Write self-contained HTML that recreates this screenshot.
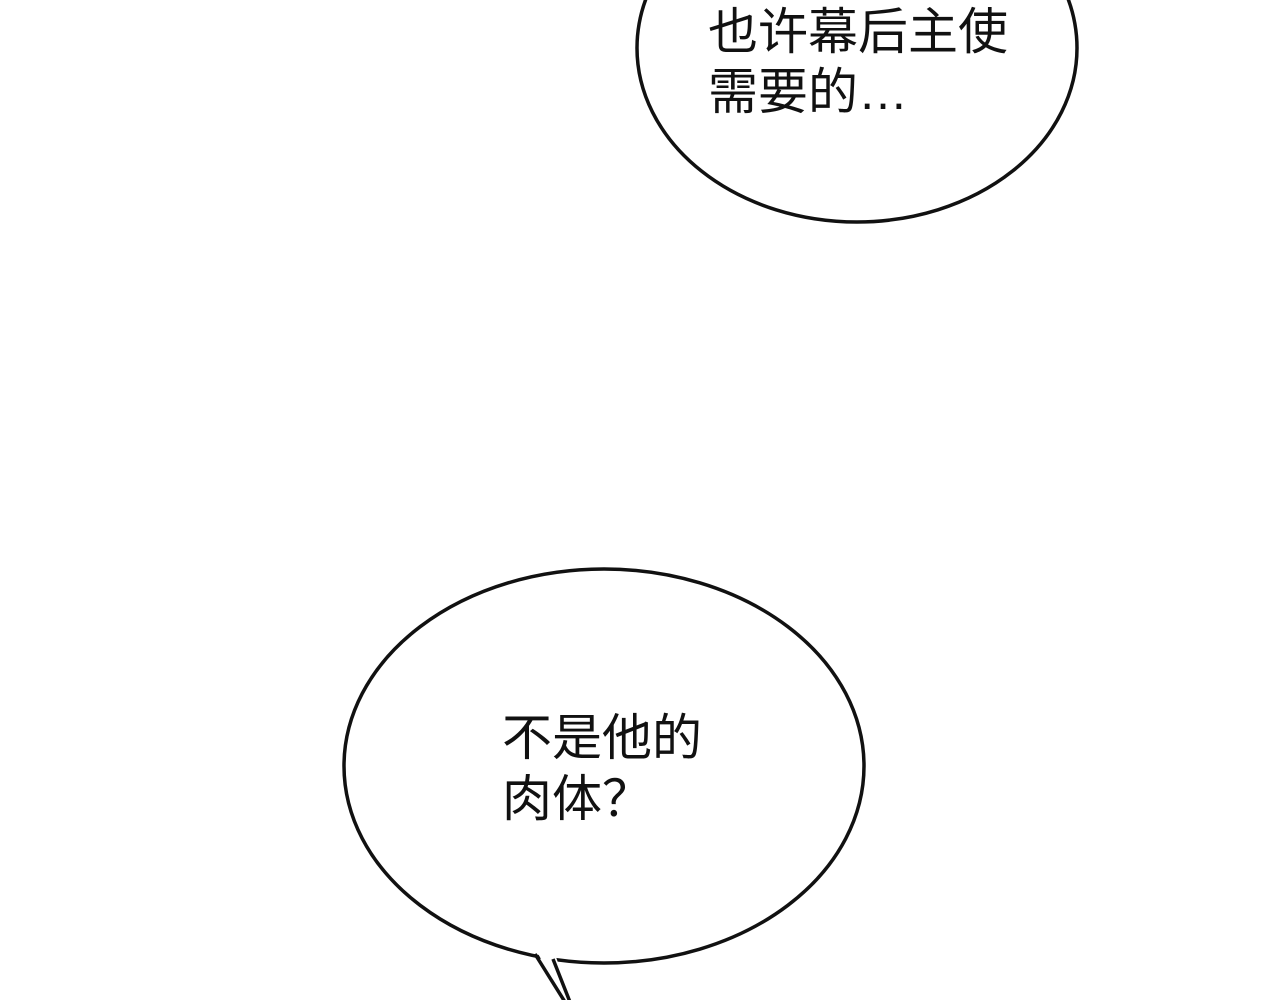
<!DOCTYPE html>
<html><head><meta charset="utf-8"><style>
html,body{margin:0;padding:0;background:#fff;}
svg{display:block}
text{font-family:"Liberation Sans","Noto Sans CJK SC",sans-serif;font-size:50px;fill:#111}
</style></head><body>
<svg width="1280" height="1000" viewBox="0 0 1280 1000">
<ellipse cx="857" cy="48" rx="220" ry="174" fill="#fff" stroke="#111" stroke-width="3.5"/>
<text x="708" y="49">也许幕后主使</text>
<text x="708" y="109">需要的…</text>
<ellipse cx="604" cy="766" rx="260" ry="197" fill="#fff" stroke="#111" stroke-width="3.5"/>
<polygon points="537,952 556,957 572,1002 566,1002" fill="#fff"/>
<polyline points="535,954 565,1002" fill="none" stroke="#111" stroke-width="3.5"/>
<polyline points="553,959 570,1002" fill="none" stroke="#111" stroke-width="3.5"/>
<text x="502" y="755">不是他的</text>
<text x="502" y="816">肉体？</text>
</svg>
</body></html>
